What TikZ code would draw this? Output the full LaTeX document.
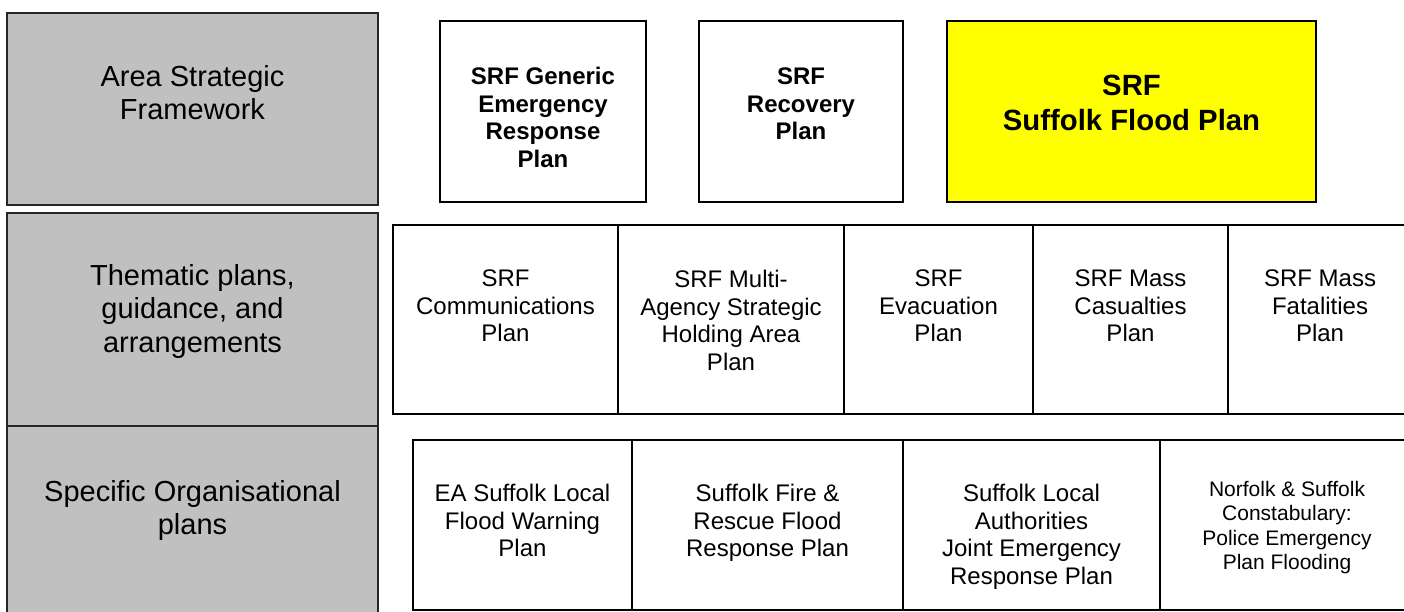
\documentclass[tikz,border=0pt]{standalone}
\usepackage{fontspec}
\setmainfont{Liberation Sans}
\definecolor{leftgray}{HTML}{C0C0C0}
\definecolor{planyellow}{HTML}{FFFF00}
\tikzset{
  x=1pt, y=-1pt,
  tierbox/.style={draw=black!85, line width=1.3pt, fill=leftgray, inner sep=0pt, outer sep=0pt},
  planbox/.style={draw=black, line width=1.8pt, fill=white, inner sep=0pt, outer sep=0pt},
  floodbox/.style={planbox, fill=planyellow},
  tiertext/.style={anchor=north, align=center, inner sep=0pt, font=\fontsize{29}{33.5}\selectfont},
  boldtext/.style={anchor=north, align=center, inner sep=0pt, font=\fontsize{24}{27.5}\selectfont\bfseries},
  floodtext/.style={anchor=north, align=center, inner sep=0pt, font=\fontsize{29.3}{35}\selectfont\bfseries},
  plantext/.style={anchor=north, align=center, inner sep=0pt, font=\fontsize{24}{27.5}\selectfont},
  smalltext/.style={anchor=north, align=center, inner sep=0pt, font=\fontsize{21}{24.5}\selectfont}
}
\begin{document}
\begin{tikzpicture}
\useasboundingbox (0,0) rectangle (1404,612);
\clip (0,0) rectangle (1404,612);
\fill[white] (0,0) rectangle (1404,612);
% left tier column
\node[tierbox, minimum width=371pt, minimum height=192pt] (L1) at (192.5,109) {};
\node[tierbox, minimum width=371pt, minimum height=214pt] (L2) at (192.5,320) {};
\node[tierbox, minimum width=371pt, minimum height=204pt] (L3) at (192.5,528) {};
\node[tiertext] (tL1) at ([yshift=-52pt]L1.north) {Area Strategic\\Framework};
\node[tiertext] (tL2) at ([yshift=-51pt]L2.north) {Thematic plans,\\guidance, and\\arrangements};
\node[tiertext] (tL3) at ([yshift=-54pt]L3.north) {Specific Organisational\\plans};
% top row
\node[planbox, minimum width=206pt, minimum height=181pt] (T1) at (543,111.5) {};
\node[planbox, minimum width=204pt, minimum height=181pt] (T2) at (801,111.5) {};
\node[floodbox, minimum width=369pt, minimum height=181pt] (T3) at (1131.5,111.5) {};
\node[boldtext] (tT1) at ([yshift=-46pt]T1.north) {SRF Generic\\Emergency\\Response\\Plan};
\node[boldtext] (tT2) at ([yshift=-47pt]T2.north) {SRF\\Recovery\\Plan};
\node[floodtext] (tT3) at ([yshift=-54pt]T3.north) {SRF\\Suffolk Flood Plan};
% middle row
\node[planbox, minimum width=225pt, minimum height=189pt] (M1) at (505.5,319.5) {};
\node[planbox, minimum width=226pt, minimum height=189pt] (M2) at (731,319.5) {};
\node[planbox, minimum width=189pt, minimum height=189pt] (M3) at (938.5,319.5) {};
\node[planbox, minimum width=195pt, minimum height=189pt] (M4) at (1130.5,319.5) {};
\node[planbox, minimum width=192pt, minimum height=189pt] (M5) at (1324,319.5) {};
\node[plantext] (tM1) at ([yshift=-45pt]M1.north) {SRF\\Communications\\Plan};
\node[plantext] (tM2) at ([yshift=-45pt]M2.north) {SRF Multi-\\Agency Strategic\\Holding Area\\Plan};
\node[plantext] (tM3) at ([yshift=-45pt]M3.north) {SRF\\Evacuation\\Plan};
\node[plantext] (tM4) at ([yshift=-45pt]M4.north) {SRF Mass\\Casualties\\Plan};
\node[plantext] (tM5) at ([yshift=-45pt,xshift=-4pt]M5.north) {SRF Mass\\Fatalities\\Plan};
% bottom row
\node[planbox, minimum width=219pt, minimum height=170pt] (B1) at (522.5,525) {};
\node[planbox, minimum width=271pt, minimum height=170pt] (B2) at (767.5,525) {};
\node[planbox, minimum width=257pt, minimum height=170pt] (B3) at (1031.5,525) {};
\node[planbox, minimum width=260pt, minimum height=170pt] (B4) at (1290,525) {};
\node[plantext] (tB1) at ([yshift=-44pt]B1.north) {EA Suffolk Local\\Flood Warning\\Plan};
\node[plantext] (tB2) at ([yshift=-44pt]B2.north) {Suffolk Fire \&\\Rescue Flood\\Response Plan};
\node[plantext] (tB3) at ([yshift=-44pt]B3.north) {Suffolk Local\\Authorities\\Joint Emergency\\Response Plan};
\node[smalltext] (tB4) at ([yshift=-41pt,xshift=-3pt]B4.north) {Norfolk \& Suffolk\\Constabulary:\\Police Emergency\\Plan Flooding};
\end{tikzpicture}
\end{document}
